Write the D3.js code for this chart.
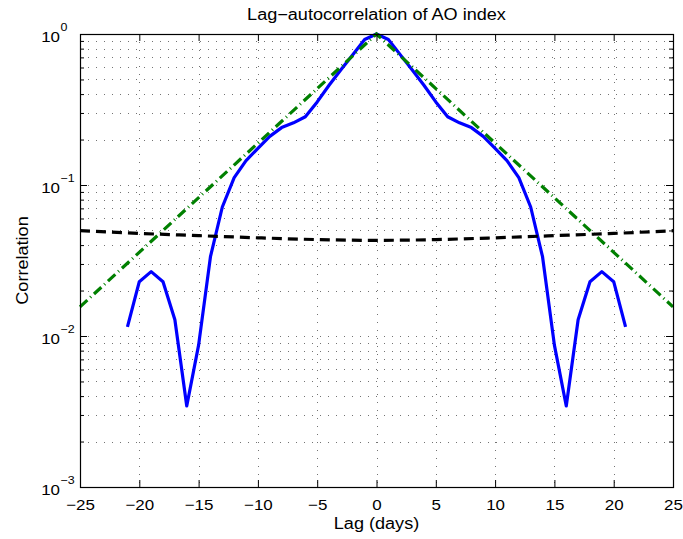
<!DOCTYPE html>
<html><head><meta charset="utf-8">
<script src="https://cdn.jsdelivr.net/npm/d3@7"></script>
<style>
body{margin:0;background:#fff;}
text{font-family:"Liberation Sans",Arial,Helvetica,sans-serif;fill:#000;}
</style>
</head><body>
<svg id="chart" width="683" height="539"></svg>
<script>
// ---- data ----
const lags = [-21,-20,-19,-18,-17,-16,-15,-14,-13,-12,-11,-10,-9,-8,-7,-6,-5,-4,-3,-2,-1,0,
              1,2,3,4,5,6,7,8,9,10,11,12,13,14,15,16,17,18,19,20,21];
const acf  = [0.0115,0.0229,0.0267,0.0229,0.0128,0.00344,0.0087,0.0335,0.0715,0.112,0.145,0.175,0.210,0.240,0.258,0.283,0.355,0.458,0.58,0.73,0.92,1.0,
              0.92,0.73,0.58,0.458,0.355,0.283,0.258,0.240,0.210,0.175,0.145,0.112,0.0715,0.0335,0.0087,0.00344,0.0128,0.0229,0.0267,0.0229,0.0115];
const fitLags = [-25,0,25];
const fitValues = [0.0156,1.0,0.0156];
const sigLags = [-25,-20,-15,-10,-5,0,5,10,15,20,25];
const sigValues = [0.0498,0.0478,0.0462,0.0447,0.0435,0.0430,0.0435,0.0447,0.0462,0.0478,0.0498];
const xTicks = [-25,-20,-15,-10,-5,0,5,10,15,20,25];
const yTicks = [0.001,0.01,0.1,1];
const yTickExps = ["\u22123","\u22122","\u22121","0"];
const titleText = "Lag\u2212autocorrelation of AO index";
const xLabelText = "Lag (days)";
const yLabelText = "Correlation";

// ---- layout ----
const L=80, R=673, T=34, B=487;
const svg = d3.select("#chart");
const x = d3.scaleLinear().domain([-25,25]).range([L,R]);
const y = d3.scaleLog().domain([0.001,1]).range([B,T]);
const minorY = [];
[0.001,0.01,0.1].forEach(d=>{for(let k=2;k<=9;k++) minorY.push(d*k);});
const STRETCH = 1.13;
function stretch(sel){
  sel.each(function(){
    const w = this.getComputedTextLength();
    if (w>0){ this.setAttribute("textLength", w*STRETCH); this.setAttribute("lengthAdjust","spacingAndGlyphs"); }
  });
}

// ---- grid ----
const grid = svg.append("g").attr("stroke","#000").attr("stroke-width",1)
  .attr("stroke-dasharray","1,7").attr("stroke-opacity",0.55);
grid.selectAll("line.gy").data(yTicks.concat(minorY)).enter().append("line")
  .attr("x1",L).attr("x2",R).attr("y1",d=>Math.round(y(d))+0.5).attr("y2",d=>Math.round(y(d))+0.5);
grid.selectAll("line.gx").data(xTicks).enter().append("line")
  .attr("y1",T).attr("y2",B).attr("x1",d=>Math.round(x(d))+0.5).attr("x2",d=>Math.round(x(d))+0.5);

// ---- series ----
const line = d3.line().x(d=>x(d[0])).y(d=>y(d[1]));
const plot = svg.append("g");
plot.append("path").datum(lags.map((l,i)=>[l,acf[i]]))
  .attr("d",line).attr("fill","none").attr("stroke","#0000ff").attr("stroke-width",3.2)
  .attr("stroke-linejoin","round");
plot.append("path").datum(fitLags.map((l,i)=>[l,fitValues[i]]))
  .attr("d",line).attr("fill","none").attr("stroke","#008000").attr("stroke-width",3.2)
  .attr("stroke-dasharray","10,4,1,4");
plot.append("path").datum(sigLags.map((l,i)=>[l,sigValues[i]]))
  .attr("d",d3.line().x(d=>x(d[0])).y(d=>y(d[1])).curve(d3.curveMonotoneX))
  .attr("fill","none").attr("stroke","#000").attr("stroke-width",3.2)
  .attr("stroke-dasharray","10,6");

// ---- axes ----
function clean(g){ g.select(".domain").remove(); g.selectAll(".tick line").attr("stroke","#000"); g.attr("font-family",null); }
const gb = svg.append("g").attr("transform",`translate(0,${B})`)
  .call(d3.axisBottom(x).tickValues(xTicks).tickSizeInner(-7).tickSizeOuter(0).tickPadding(12)
        .tickFormat(d=>d<0?"\u2212"+Math.abs(d):String(d)))
  .call(clean);
gb.selectAll("text").attr("font-size",15).attr("dy","0.71em");
stretch(gb.selectAll("text"));
svg.append("g").attr("transform",`translate(0,${T})`)
  .call(d3.axisTop(x).tickValues(xTicks).tickSizeInner(-7).tickSizeOuter(0).tickFormat(""))
  .call(clean);
svg.append("g").attr("transform",`translate(${L},0)`)
  .call(d3.axisLeft(y).tickValues(yTicks).tickSizeInner(-7).tickSizeOuter(0).tickFormat(""))
  .call(clean);
svg.append("g").attr("transform",`translate(${L},0)`)
  .call(d3.axisLeft(y).tickValues(minorY).tickSizeInner(-4).tickSizeOuter(0).tickFormat(""))
  .call(clean);
svg.append("g").attr("transform",`translate(${R},0)`)
  .call(d3.axisRight(y).tickValues(yTicks).tickSizeInner(-7).tickSizeOuter(0).tickFormat(""))
  .call(clean);
svg.append("g").attr("transform",`translate(${R},0)`)
  .call(d3.axisRight(y).tickValues(minorY).tickSizeInner(-4).tickSizeOuter(0).tickFormat(""))
  .call(clean);

// box
svg.append("rect").attr("x",L+0.5).attr("y",T+0.5).attr("width",R-L).attr("height",B-T)
  .attr("fill","none").attr("stroke","#000").attr("stroke-width",1.2);

// y tick labels with superscripts
const yl = svg.append("g");
yTicks.forEach((v,i)=>{
  const t = yl.append("text").attr("x",60).attr("y",y(v)+7.7).attr("text-anchor","end")
    .attr("font-size",15).text("10");
  stretch(t);
  const e = yl.append("text").attr("x",60.5).attr("y",y(v)-3.5).attr("text-anchor","start")
    .attr("font-size",11).text(yTickExps[i]);
  stretch(e);
});

// title and labels
const tt = svg.append("text").attr("x",(L+R)/2).attr("y",19.5).attr("text-anchor","middle")
  .attr("font-size",16).text(titleText);
stretch(tt);
const xl = svg.append("text").attr("x",(L+R)/2).attr("y",529).attr("text-anchor","middle")
  .attr("font-size",16).text(xLabelText);
stretch(xl);
const ylab = svg.append("text").attr("transform",`translate(27.5,${(T+B)/2}) rotate(-90)`)
  .attr("text-anchor","middle").attr("font-size",16).text(yLabelText);
stretch(ylab);
</script>
</body></html>
